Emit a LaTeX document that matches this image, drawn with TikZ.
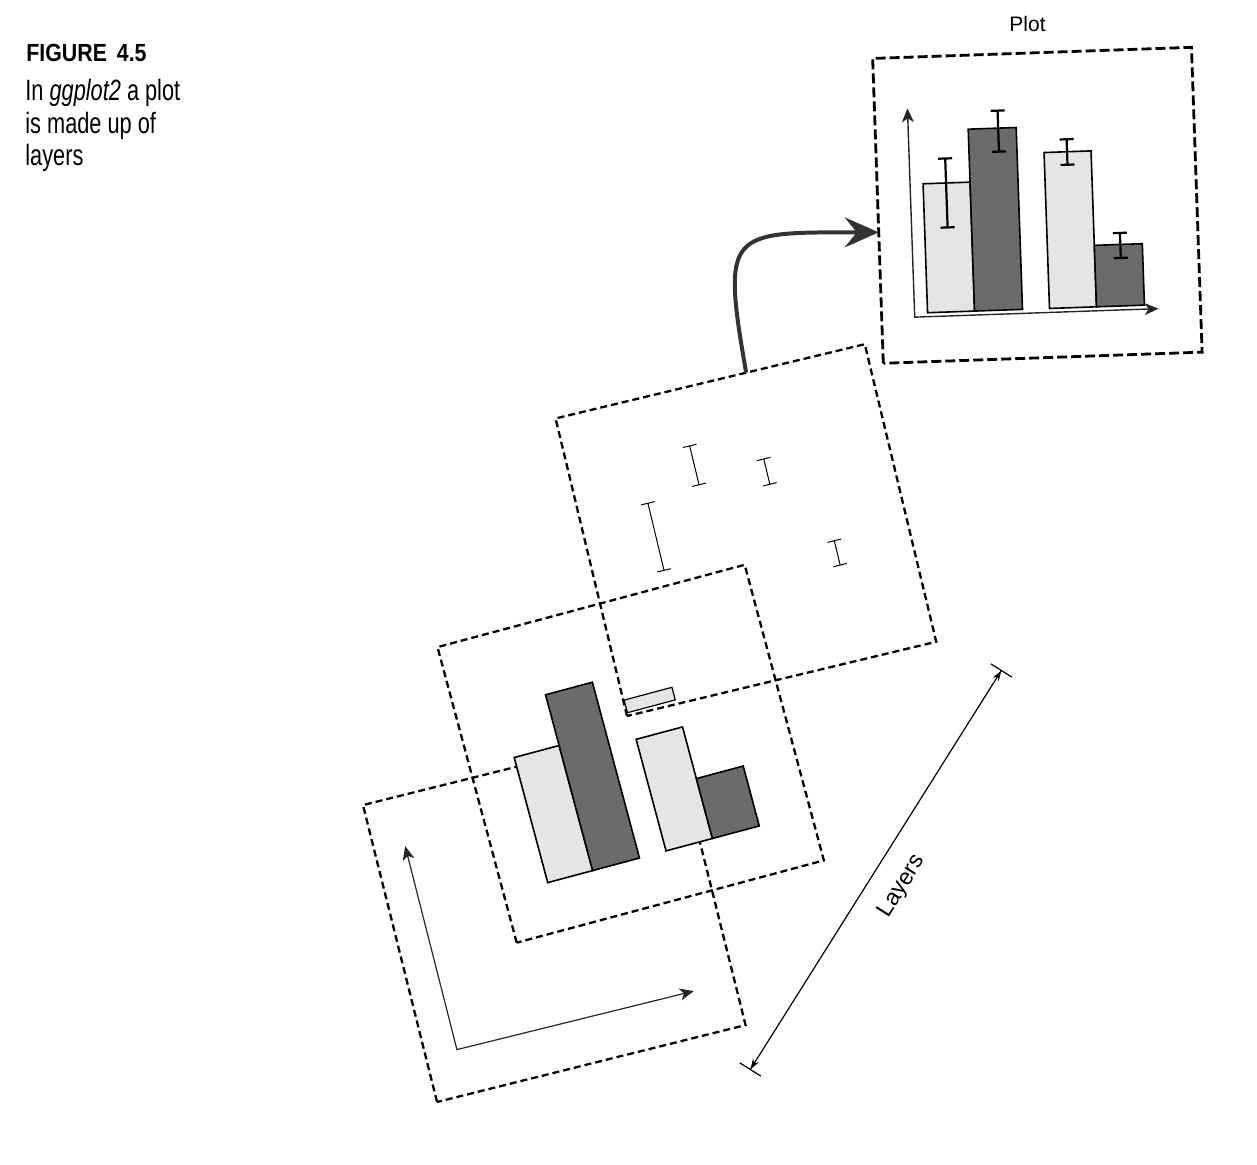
\documentclass[tikz,border=0pt]{standalone}
\usepackage{fontspec}
\setmainfont{Liberation Sans}
\newfontfamily\capfont[FakeStretch=0.74]{Liberation Sans}
\newfontfamily\headfont[FakeStretch=0.86]{Liberation Sans}
\usetikzlibrary{arrows.meta}

\tikzset{
  layer/.style={line width=1.15pt, dash pattern=on 3.5pt off 2pt},
  lightbar/.style={draw=black, line width=0.8pt, fill=black!10},
  darkbar/.style={draw=black, line width=0.8pt, fill=black!58},
  axisline/.style={line width=0.6pt, black!85,
    {Stealth[length=7pt,width=6pt,inset=2pt]}-{Stealth[length=7pt,width=6pt,inset=2pt]}},
  errbar/.style={line width=0.5pt},
  bigerr/.style={line width=1.1pt},
  caption/.style={anchor=base west, inner sep=0pt},
}

\begin{document}
\begin{tikzpicture}[x=0.5pt, y=0.5pt]
\useasboundingbox (0,0) rectangle (1257,1165);

% caption
\node[caption, font=\headfont\bfseries\fontsize{12.4}{14}\selectfont]
  (figno) at (26,1103.3) {FIGURE\hspace{0.4em}4.5};
\foreach \n/\ln/\yy in {
    1/{In \textit{ggplot2} a plot}/1064.3,
    2/{is made up of}/1031,
    3/{layers}/999
}{
  \node[caption, font=\capfont\fontsize{14.7}{17}\selectfont]
    (cap\n) at (25,\yy) {\ln};
}

% axes layer
\begin{scope}[shift={(437,63)}, rotate=14]
  \draw[layer] (0,0) rectangle (318,306);
  \draw[axisline] (31,256) -- (32,46) -- (276,45.5);
\end{scope}

% frame of the bars layer
\begin{scope}[shift={(516.7,222.3)}, rotate=15]
  \draw[layer] (0,0) rectangle (318,306);
\end{scope}

% error bar layer
\begin{scope}[shift={(627,449)}, rotate=13.5]
  \draw[layer] (0,0) rectangle (318,306);
  \coordinate (errtop) at (196,306);
  \foreach \u/\lo/\hi in {70/133/202, 124/208/248, 193/192/218, 242.5/97/122}{
    \draw[errbar] (\u-7,\lo) -- (\u+7,\lo) (\u,\lo) -- (\u,\hi) (\u-7,\hi) -- (\u+7,\hi);
  }
\end{scope}

% bars layer
\begin{scope}[shift={(516.7,222.3)}, rotate=15]
  \fill[white] (46,50) rectangle (264,178);
  \foreach \a/\b/\h/\s in {45.5/92/179.5/lightbar, 92/140.5/232/darkbar,
                           168/216/165.5/lightbar, 216/264.5/112/darkbar}{
    \draw[\s] (\a,50) rectangle (\b,\h);
  }
  \draw[lightbar, line width=0.6pt] (166.5,193.5) rectangle (216,206.5);
\end{scope}

% finished plot
\begin{scope}[shift={(883.3,801.7)}, rotate=2]
  \draw[layer, line width=1.4pt, dash pattern=on 5pt off 2pt] (0,0) rectangle (319,305);
  \coordinate (plotin) at (0,131);
  \draw[axisline, line width=0.7pt] (33,254) -- (33,45) -- (277,45);
  \foreach \a/\b/\h/\s in {46/93/178/lightbar, 93/141/231/darkbar,
                           168/215/205/lightbar, 215/263/110.5/darkbar}{
    \draw[\s] (\a,49) rectangle (\b,\h);
  }
  \foreach \u/\lo/\hi in {69/133.5/202.5, 123/207.5/248.5, 191/192/217.5, 241/97/122}{
    \draw[bigerr] (\u-7,\lo) -- (\u+7,\lo) (\u,\lo) -- (\u,\hi) (\u-7,\hi) -- (\u+7,\hi);
  }
\end{scope}
\node[anchor=base, font=\fontsize{10.5}{12}\selectfont] (plotlbl) at (1027.5,1133.3) {Plot};

% layers combine into the plot
\draw[line width=2pt, black!80, -{Stealth[length=17pt, width=15pt, inset=6pt]}]
  (errtop) .. controls +(-25,143) and +(-150,0) .. (plotin);

% depth of the stack
\coordinate (lbot) at (750,95);
\coordinate (ltop) at (1001.7,495);
\draw[line width=0.6pt,
  {Bar[width=12.5pt]Stealth[length=5pt,width=3.5pt]}-{Stealth[length=5pt,width=3.5pt]Bar[width=12.5pt]}]
  (lbot) -- (ltop)
  node[pos=0.5, sloped, below=10pt, inner sep=0pt, font=\fontsize{11.5}{13}\selectfont] (layerslbl) {Layers};
\end{tikzpicture}
\end{document}
